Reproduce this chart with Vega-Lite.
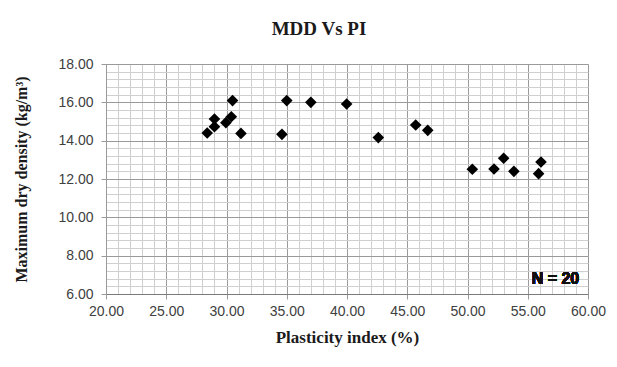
{
  "$schema": "https://vega.github.io/schema/vega-lite/v6.json",
  "width": 482,
  "height": 230,
  "autosize": {"type": "none"},
  "padding": {"left": 106, "top": 64, "right": 29, "bottom": 73},
  "background": "white",
  "title": {"text": "MDD Vs PI", "font": "Liberation Serif", "fontSize": 19, "fontWeight": "bold", "color": "#1a1a1a", "anchor": "middle", "dx": -28, "offset": 18},
  "config": {"view": {"stroke": null}},
  "data": {"values": [
    {"pi": 28.4, "mdd": 14.40},
    {"pi": 29.0, "mdd": 15.13},
    {"pi": 29.0, "mdd": 14.73},
    {"pi": 29.95, "mdd": 14.94},
    {"pi": 30.4, "mdd": 15.25},
    {"pi": 30.5, "mdd": 16.09},
    {"pi": 31.2, "mdd": 14.38},
    {"pi": 34.6, "mdd": 14.33},
    {"pi": 35.0, "mdd": 16.09},
    {"pi": 37.0, "mdd": 16.00},
    {"pi": 39.97, "mdd": 15.91},
    {"pi": 42.6, "mdd": 14.16},
    {"pi": 45.7, "mdd": 14.82},
    {"pi": 46.7, "mdd": 14.54},
    {"pi": 50.4, "mdd": 12.51},
    {"pi": 52.2, "mdd": 12.52},
    {"pi": 53.0, "mdd": 13.08},
    {"pi": 53.85, "mdd": 12.40},
    {"pi": 56.1, "mdd": 12.89},
    {"pi": 55.9, "mdd": 12.28}
  ]},
  "layer": [
    {
      "mark": {"type": "point", "opacity": 0},
      "encoding": {
        "x": {"field": "pi", "type": "quantitative", "scale": {"domain": [20, 60], "nice": false, "zero": false},
          "axis": {"orient": "bottom", "values": [20,21,22,23,24,25,26,27,28,29,30,31,32,33,34,35,36,37,38,39,40,41,42,43,44,45,46,47,48,49,50,51,52,53,54,55,56,57,58,59,60], "grid": true, "gridColor": "#cfcfcf", "gridWidth": 1, "labels": false, "ticks": false, "domain": false, "title": null}},
        "y": {"field": "mdd", "type": "quantitative", "scale": {"domain": [6, 18], "nice": false, "zero": false},
          "axis": {"orient": "left", "values": [6,6.4,6.8,7.2,7.6,8,8.4,8.8,9.2,9.6,10,10.4,10.8,11.2,11.6,12,12.4,12.8,13.2,13.6,14,14.4,14.8,15.2,15.6,16,16.4,16.8,17.2,17.6,18], "grid": true, "gridColor": "#cfcfcf", "gridWidth": 1, "labels": false, "ticks": false, "domain": false, "title": null}}
      }
    },
    {
      "mark": {"type": "point", "shape": "diamond", "filled": true, "color": "black", "size": 135, "opacity": 1},
      "encoding": {
        "x": {"field": "pi", "type": "quantitative",
          "axis": {"orient": "bottom", "values": [20,25,30,35,40,45,50,55,60], "format": ".2f", "grid": true, "gridColor": "#9a9a9a", "gridWidth": 1, "tickSize": 5, "tickColor": "#9a9a9a", "domainColor": "#7a7a7a", "labelFont": "Liberation Sans", "labelFontSize": 14, "labelColor": "#404040", "labelPadding": 5, "labelFlush": false,
            "title": "Plasticity index (%)", "titleFont": "Liberation Serif", "titleFontSize": 17, "titleFontWeight": "bold", "titleColor": "#1a1a1a", "titlePadding": 11}},
        "y": {"field": "mdd", "type": "quantitative",
          "axis": {"orient": "left", "values": [6,8,10,12,14,16,18], "format": ".2f", "grid": true, "gridColor": "#9a9a9a", "gridWidth": 1, "tickSize": 5, "tickColor": "#9a9a9a", "domainColor": "#9a9a9a", "labelFont": "Liberation Sans", "labelFontSize": 14, "labelColor": "#404040", "labelPadding": 8, "labelFlush": false,
            "title": "Maximum dry density (kg/m³)", "titleFont": "Liberation Serif", "titleFontSize": 16, "titleFontWeight": "bold", "titleColor": "#1a1a1a", "titlePadding": 28}}
      }
    },
    {
      "mark": {"type": "text", "text": "N = 20", "font": "Liberation Sans", "fontSize": 16, "fontWeight": "bold", "color": "#111111", "align": "center", "baseline": "middle"},
      "encoding": {
        "x": {"datum": 57.3, "type": "quantitative", "axis": null},
        "y": {"datum": 6.8, "type": "quantitative", "axis": null}
      }
    }
  ],
  "resolve": {"axis": {"x": "independent", "y": "independent"}}
}
